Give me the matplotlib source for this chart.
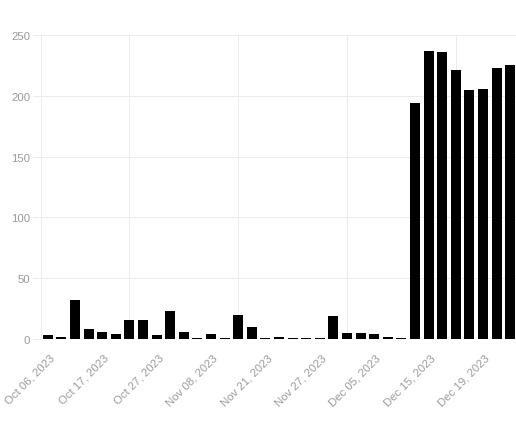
import numpy as np
import matplotlib
matplotlib.use('Agg')
import matplotlib.pyplot as plt
import matplotlib.transforms as mtransforms

plt.rcParams['font.family'] = ['Liberation Sans', 'DejaVu Sans']

# daily counts, one bar per day shown
values = [3, 2, 32, 8, 6, 4, 16, 16, 3, 23, 6, 1, 4, 1, 20, 10,
          1, 2, 1, 1, 1, 19, 5, 5, 4, 2, 1,
          194, 237, 236, 221, 205, 206, 223, 225]
tick_labels = ['Oct 06, 2023', 'Oct 17, 2023', 'Oct 27, 2023', 'Nov 08, 2023',
               'Nov 21, 2023', 'Nov 27, 2023', 'Dec 05, 2023', 'Dec 15, 2023',
               'Dec 19, 2023']
yticks = [0, 50, 100, 150, 200, 250]

grid_col = '#ebebeb'
text_col = '#9a9a9a'
px = 72 / 100  # one pixel in points

fig = plt.figure(figsize=(5.16, 4.35), dpi=100)
ax = fig.add_axes([41 / 516, 95 / 435, 476 / 516, 304 / 435])

ind = np.arange(len(values))
ax.bar(ind, values, width=0.74, color='black', zorder=3)

ax.set_xlim(-0.5, len(values) - 0.5)
ax.set_ylim(0, 250)

# horizontal grid
ax.set_yticks(yticks)
ax.set_yticklabels([str(v) for v in yticks], color=text_col, fontsize=8.2)
for v in yticks:
    ax.axhline(v, color=grid_col, lw=1.0 * px, zorder=1)
ax.tick_params(axis='y', length=8 * px, width=1.0 * px, color=grid_col, pad=3 * px)

# vertical grid lines, every 8th bar
for xg in [6, 14, 22, 30]:
    ax.axvline(xg, color=grid_col, lw=1.0 * px, zorder=1)

# x tick labels every 4th bar
ax.set_xticks(ind[::4])
ax.set_xticklabels(tick_labels, rotation=45, ha='right', va='center',
                   rotation_mode='anchor', color=text_col, fontsize=8.2)
ax.tick_params(axis='x', length=0, pad=8 * px)
offset = mtransforms.ScaledTranslation(5 / 100, -9 / 100, fig.dpi_scale_trans)
for lab in ax.get_xticklabels():
    lab.set_transform(lab.get_transform() + offset)

for side in ['top', 'right', 'bottom']:
    ax.spines[side].set_visible(False)
ax.spines['left'].set_color(grid_col)
ax.spines['left'].set_linewidth(1.0 * px)

plt.savefig('out.png', dpi=100)
